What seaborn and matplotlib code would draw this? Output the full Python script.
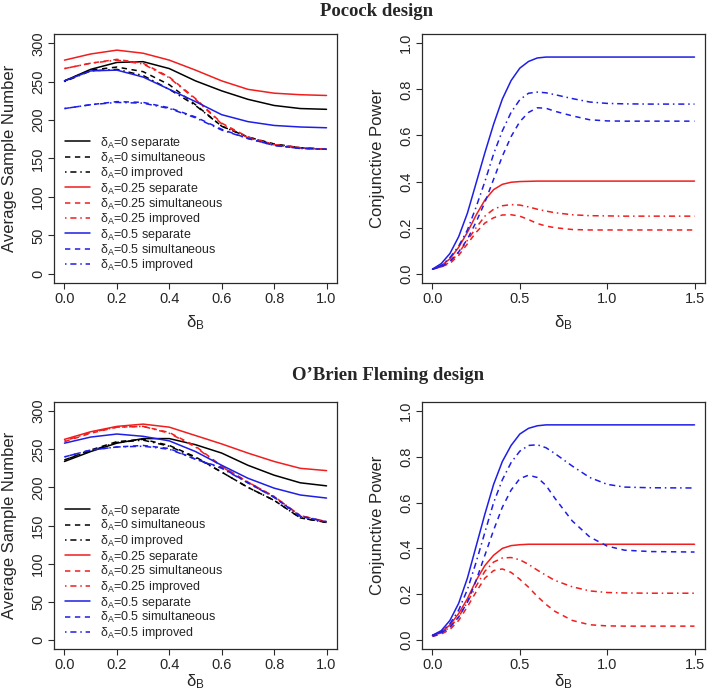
import matplotlib
matplotlib.use("Agg")
import matplotlib.pyplot as plt
import seaborn as sns
import numpy as np

# ---------------- data ----------------
asn_x = [0.0, 0.1, 0.2, 0.3, 0.4, 0.5, 0.6, 0.7, 0.8, 0.9, 1.0]

# Pocock design: average sample number
poc_sep0 = [251, 266, 275, 276, 267, 251, 238, 227, 219, 215, 214]
poc_sim0 = [251, 265, 269, 263, 246, 220, 192, 178, 169, 164, 162]
poc_imp0 = [250, 264, 266, 258, 240, 219, 192, 178, 168, 164, 162]
poc_sep25 = [278, 286, 291, 287, 278, 265, 251, 240, 235, 233, 232]
poc_sim25 = [267, 274, 279, 274, 256, 228, 196, 178, 168, 164, 162]
poc_imp25 = [267, 274, 278, 273, 255, 227, 195, 177, 168, 164, 162]
poc_sep50 = [251, 264, 265, 256, 240, 224, 207, 198, 193, 191, 190]
poc_sim50 = [215, 220, 224, 223, 216, 204, 188, 176, 167, 163, 162]
poc_imp50 = [215, 220, 223, 222, 215, 203, 187, 176, 167, 163, 162]

# O'Brien Fleming design: average sample number
obf_sep0 = [234, 247, 258, 264, 264, 256, 245, 229, 216, 206, 202]
obf_sim0 = [236, 249, 260, 263, 255, 240, 220, 200, 183, 160, 154]
obf_imp0 = [236, 248, 259, 262, 254, 239, 220, 200, 183, 160, 154]
obf_sep25 = [263, 273, 280, 283, 279, 268, 257, 245, 234, 225, 222]
obf_sim25 = [260, 271, 279, 280, 272, 254, 228, 207, 188, 163, 155]
obf_imp25 = [261, 272, 279, 280, 271, 253, 227, 207, 188, 163, 155]
obf_sep50 = [258, 266, 270, 267, 261, 247, 229, 212, 199, 190, 186]
obf_sim50 = [240, 249, 253, 255, 251, 237, 226, 206, 187, 162, 155]
obf_imp50 = [240, 249, 253, 254, 250, 237, 225, 206, 187, 162, 155]

pow_x = [0.0, 0.05, 0.1, 0.15, 0.2, 0.25, 0.3, 0.35, 0.4, 0.45, 0.5, 0.55,
         0.6, 0.65, 0.7, 0.8, 0.9, 1.0, 1.1, 1.25, 1.5]

# Pocock design: conjunctive power
ppow_sep25 = [0.02, 0.035, 0.065, 0.115, 0.18, 0.255, 0.32, 0.365, 0.388, 0.397, 0.400,
              0.401, 0.402, 0.402, 0.402, 0.402, 0.402, 0.402, 0.402, 0.402, 0.402]
ppow_sim25 = [0.02, 0.03, 0.045, 0.08, 0.13, 0.18, 0.22, 0.243, 0.255, 0.256, 0.25,
              0.235, 0.218, 0.207, 0.20, 0.192, 0.19, 0.19, 0.19, 0.19, 0.19]
ppow_imp25 = [0.02, 0.03, 0.05, 0.09, 0.145, 0.20, 0.25, 0.28, 0.295, 0.30, 0.298,
              0.29, 0.28, 0.272, 0.265, 0.256, 0.252, 0.251, 0.25, 0.25, 0.25]
ppow_sep50 = [0.02, 0.044, 0.088, 0.161, 0.263, 0.394, 0.525, 0.649, 0.758, 0.838, 0.892,
              0.921, 0.936, 0.94, 0.94, 0.94, 0.94, 0.94, 0.94, 0.94, 0.94]
ppow_sim50 = [0.02, 0.03, 0.055, 0.095, 0.15, 0.225, 0.31, 0.41, 0.51, 0.595, 0.66,
              0.70, 0.72, 0.718, 0.705, 0.685, 0.668, 0.663, 0.662, 0.662, 0.662]
ppow_imp50 = [0.02, 0.035, 0.07, 0.12, 0.19, 0.29, 0.40, 0.52, 0.62, 0.70, 0.755,
              0.783, 0.788, 0.785, 0.777, 0.76, 0.745, 0.739, 0.737, 0.736, 0.736]

# O'Brien Fleming design: conjunctive power
opow_sep25 = [0.02, 0.035, 0.065, 0.115, 0.18, 0.26, 0.325, 0.37, 0.40, 0.412, 0.416,
              0.418, 0.418, 0.418, 0.418, 0.418, 0.418, 0.418, 0.418, 0.418, 0.418]
opow_sim25 = [0.015, 0.025, 0.045, 0.085, 0.145, 0.21, 0.27, 0.303, 0.31, 0.295, 0.265,
              0.23, 0.19, 0.155, 0.125, 0.085, 0.066, 0.061, 0.06, 0.06, 0.06]
opow_imp25 = [0.02, 0.03, 0.055, 0.10, 0.165, 0.235, 0.30, 0.34, 0.358, 0.36, 0.35,
              0.33, 0.305, 0.282, 0.26, 0.232, 0.214, 0.207, 0.205, 0.204, 0.204]
opow_sep50 = [0.02, 0.04, 0.085, 0.16, 0.27, 0.41, 0.55, 0.68, 0.78, 0.85, 0.90,
              0.925, 0.936, 0.94, 0.94, 0.94, 0.94, 0.94, 0.94, 0.94, 0.94]
opow_sim50 = [0.015, 0.03, 0.055, 0.10, 0.165, 0.26, 0.37, 0.48, 0.58, 0.655, 0.705,
              0.72, 0.71, 0.675, 0.62, 0.52, 0.45, 0.41, 0.392, 0.386, 0.384]
opow_imp50 = [0.02, 0.035, 0.07, 0.13, 0.22, 0.34, 0.47, 0.60, 0.70, 0.775, 0.825,
              0.85, 0.853, 0.84, 0.815, 0.76, 0.71, 0.68, 0.668, 0.665, 0.664]

legend_labels = [r"$\mathregular{\delta_A}$=0 separate",
                 r"$\mathregular{\delta_A}$=0 simultaneous",
                 r"$\mathregular{\delta_A}$=0 improved",
                 r"$\mathregular{\delta_A}$=0.25 separate",
                 r"$\mathregular{\delta_A}$=0.25 simultaneous",
                 r"$\mathregular{\delta_A}$=0.25 improved",
                 r"$\mathregular{\delta_A}$=0.5 separate",
                 r"$\mathregular{\delta_A}$=0.5 simultaneous",
                 r"$\mathregular{\delta_A}$=0.5 improved"]

titles = ["Pocock design", "O\u2019Brien Fleming design"]

# ---------------- style ----------------
sns.set_theme(style="white")
plt.rcParams["font.family"] = ["Liberation Sans", "DejaVu Sans"]
plt.rcParams["mathtext.fontset"] = "custom"
plt.rcParams["mathtext.rm"] = "Liberation Sans"
plt.rcParams["mathtext.it"] = "Liberation Sans:italic"

BLACK = "#000000"
RED = "#f01e1e"
BLUE = "#1e1ee6"
SOLID = "-"
DASH = (0, (3.5, 3.0))
DOTDASH = (0, (1.0, 2.5, 4.0, 2.5))
LW = 1.1

styles = [(BLACK, SOLID), (BLACK, DASH), (BLACK, DOTDASH),
          (RED, SOLID), (RED, DASH), (RED, DOTDASH),
          (BLUE, SOLID), (BLUE, DASH), (BLUE, DOTDASH)]

W, H = 709, 698
fig = plt.figure(figsize=(W / 100, H / 100), dpi=100)


def rect(l, t, r, b):
    return [l / W, 1 - b / H, (r - l) / W, (b - t) / H]


def style_axes(ax, labelpad_x):
    for s in ax.spines.values():
        s.set_visible(True)
        s.set_color("#2a2a2a")
        s.set_linewidth(0.9)
    ax.tick_params(direction="out", length=4.5, width=0.8, labelsize=10.5,
                   color="#2a2a2a", pad=2, bottom=True, left=True)
    ax.tick_params(axis="y", labelrotation=90)
    for lab in ax.get_yticklabels():
        lab.set_va("center")
    ax.set_xlabel(r"$\mathregular{\delta_B}$", fontsize=12, labelpad=labelpad_x)
    ax.grid(False)


def asn_panel(ax, series, top_row):
    for ys, (c, ls), lab in zip(series, styles, legend_labels):
        sns.lineplot(x=asn_x, y=ys, ax=ax, color=c, linestyle=ls, linewidth=LW,
                     label=lab, sort=False)
    ax.set_xlim(-0.04, 1.04)
    ax.set_ylim(-12, 312)
    ax.set_xticks([0.0, 0.2, 0.4, 0.6, 0.8, 1.0])
    ax.set_xticklabels(["0.0", "0.2", "0.4", "0.6", "0.8", "1.0"])
    ax.set_yticks([0, 50, 100, 150, 200, 250, 300])
    ax.set_ylabel("Average Sample Number", fontsize=12, labelpad=10)
    ax.legend(loc="upper left", bbox_to_anchor=(0.02, 0.615 if top_row else 0.613),
              frameon=False, fontsize=9, handlelength=2.0, handletextpad=0.85,
              labelspacing=-0.03, borderaxespad=0)


def pow_panel(ax, series):
    for ys, (c, ls) in zip(series, styles[3:]):
        sns.lineplot(x=pow_x, y=ys, ax=ax, color=c, linestyle=ls, linewidth=LW,
                     sort=False, legend=False)
    ax.set_xlim(-0.06, 1.56)
    ax.set_ylim(-0.04, 1.04)
    ax.set_xticks([0.0, 0.5, 1.0, 1.5])
    ax.set_xticklabels(["0.0", "0.5", "1.0", "1.5"])
    ax.set_yticks([0.0, 0.2, 0.4, 0.6, 0.8, 1.0])
    ax.set_yticklabels(["0.0", "0.2", "0.4", "0.6", "0.8", "1.0"])
    ax.set_ylabel("Conjunctive Power", fontsize=12, labelpad=10)


ax1 = fig.add_axes(rect(54, 34, 337, 283))
asn_panel(ax1, [poc_sep0, poc_sim0, poc_imp0, poc_sep25, poc_sim25, poc_imp25,
                poc_sep50, poc_sim50, poc_imp50], True)
style_axes(ax1, 5)

ax2 = fig.add_axes(rect(422, 34, 705, 283))
pow_panel(ax2, [ppow_sep25, ppow_sim25, ppow_imp25, ppow_sep50, ppow_sim50, ppow_imp50])
style_axes(ax2, 5)

ax3 = fig.add_axes(rect(54, 402, 337, 649))
asn_panel(ax3, [obf_sep0, obf_sim0, obf_imp0, obf_sep25, obf_sim25, obf_imp25,
                obf_sep50, obf_sim50, obf_imp50], False)
style_axes(ax3, 0)

ax4 = fig.add_axes(rect(422, 402, 705, 649))
pow_panel(ax4, [opow_sep25, opow_sim25, opow_imp25, opow_sep50, opow_sim50, opow_imp50])
style_axes(ax4, 0)

fig.text(377 / W, 1 - 11 / H, titles[0], ha="center", va="center",
         fontsize=13.5, fontweight="bold", family=["Liberation Serif", "DejaVu Serif"])
fig.text(388 / W, 1 - 375 / H, titles[1], ha="center", va="center",
         fontsize=13.5, fontweight="bold", family=["Liberation Serif", "DejaVu Serif"])

fig.savefig("out.png", dpi=100)
